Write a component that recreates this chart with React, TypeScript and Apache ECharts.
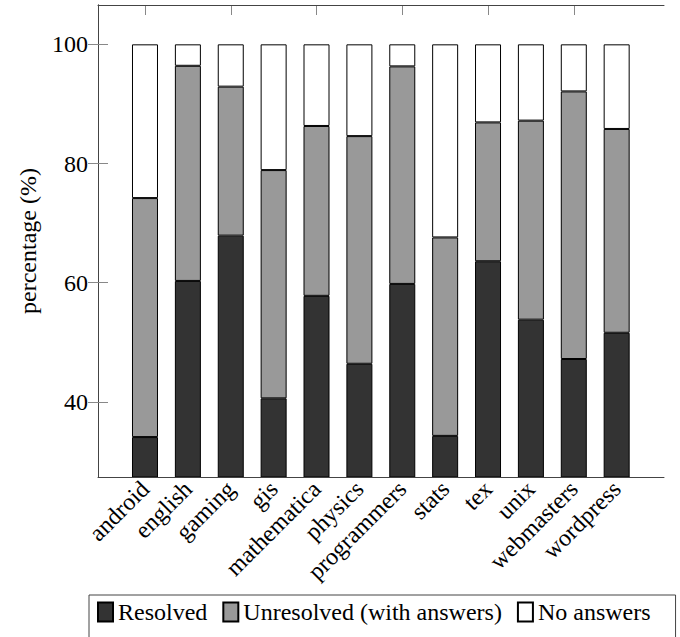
import React, { useEffect, useRef } from "react";
import * as echarts from "echarts";

const categories = [
  "android", "english", "gaming", "gis", "mathematica", "physics",
  "programmers", "stats", "tex", "unix", "webmasters", "wordpress",
];
const resolved = [34.1, 60.3, 67.9, 40.6, 57.8, 46.4, 59.8, 34.3, 63.6, 53.8, 47.2, 51.6];
const unresolved = [40.1, 36.1, 25.0, 38.3, 28.5, 38.2, 36.5, 33.3, 23.3, 33.4, 44.9, 34.2];
const noAnswers = [25.8, 3.6, 7.1, 21.1, 13.7, 15.4, 3.7, 32.4, 13.1, 12.8, 7.9, 14.2];
const yTicks = [40, 60, 80, 100];
const yMin = 27.4;
const yMax = 106.6;

const FONT = "'Liberation Serif', 'DejaVu Serif', serif";
const FS = 24;

export default function App() {
  const ref = useRef<HTMLDivElement>(null);
  useEffect(() => {
    if (!ref.current) return;
    const chart = echarts.init(ref.current, null, { renderer: "svg" });
    const frameLine = { show: true, lineStyle: { color: "#444", width: 1 } };
    const noTick = { show: false };
    const noLabel = { show: false };
    const noSplit = { show: false };
    const barBase = {
      type: "bar",
      stack: "total",
      barWidth: 26,
      xAxisIndex: 2,
      yAxisIndex: 2,
    };
    chart.setOption({
      animation: false,
      backgroundColor: "#fff",
      textStyle: { fontFamily: FONT },
      grid: [
        { left: 98, right: 16, top: 5, bottom: 160 },
        { left: 123.56, right: 41.9, top: 5, bottom: 160 },
      ],
      xAxis: [
        { type: "value", gridIndex: 0, position: "bottom", min: 0, max: 1, axisLine: frameLine, axisTick: noTick, axisLabel: noLabel, splitLine: noSplit, z: 10 },
        { type: "value", gridIndex: 0, position: "top", min: 0, max: 1, axisLine: frameLine, axisTick: noTick, axisLabel: noLabel, splitLine: noSplit, z: 10 },
        {
          type: "category", gridIndex: 1, position: "bottom", data: categories,
          axisLine: { show: false }, axisTick: noTick,
          axisLabel: { rotate: 45, interval: 0, margin: 8, fontFamily: FONT, fontSize: FS, color: "#000" },
        },
        {
          type: "category", gridIndex: 1, position: "top", data: categories,
          axisLine: { show: false },
          axisTick: { show: true, inside: true, length: 10, alignWithLabel: true, lineStyle: { color: "#888" } },
          axisLabel: noLabel,
        },
      ],
      yAxis: [
        {
          type: "value", gridIndex: 0, position: "left", min: yMin, max: yMax,
          axisLine: frameLine,
          axisTick: { show: true, inside: true, length: 10, customValues: yTicks, lineStyle: { color: "#888" } },
          axisLabel: { customValues: yTicks, margin: 10, fontFamily: FONT, fontSize: FS, color: "#000" },
          splitLine: noSplit,
          name: "percentage (%)", nameLocation: "middle", nameRotate: 90, nameGap: 58,
          nameTextStyle: { fontFamily: FONT, fontSize: FS, color: "#000" },
          z: 10,
        },
        {
          type: "value", gridIndex: 0, position: "right", min: yMin, max: yMax,
          axisLine: frameLine,
          axisTick: { show: true, inside: true, length: 10, customValues: yTicks, lineStyle: { color: "#888" } },
          axisLabel: noLabel, splitLine: noSplit, z: 10,
        },
        {
          type: "value", gridIndex: 1, min: yMin, max: yMax,
          axisLine: { show: false }, axisTick: noTick, axisLabel: noLabel, splitLine: noSplit,
        },
      ],
      legend: {
        left: 89, top: 595,
        orient: "horizontal",
        icon: "rect",
        itemWidth: 15, itemHeight: 19, itemGap: 15,
        padding: [5, 25, 40, 8],
        borderColor: "#444", borderWidth: 1,
        textStyle: { fontFamily: FONT, fontSize: FS, color: "#000", padding: [0, 0, 0, 0] },
        data: ["Resolved", "Unresolved (with answers)", "No answers"],
      },
      series: [
        { ...barBase, name: "Resolved", data: resolved, itemStyle: { color: "#333333", borderColor: "#000", borderWidth: 1 } },
        { ...barBase, name: "Unresolved (with answers)", data: unresolved, itemStyle: { color: "#999999", borderColor: "#000", borderWidth: 1 } },
        { ...barBase, name: "No answers", data: noAnswers, itemStyle: { color: "#ffffff", borderColor: "#000", borderWidth: 1 } },
      ],
    });
    return () => chart.dispose();
  }, []);
  return (
    <div
      ref={ref}
      style={{ position: "absolute", left: 0, top: 0, width: 680, height: 637 }}
    />
  );
}
